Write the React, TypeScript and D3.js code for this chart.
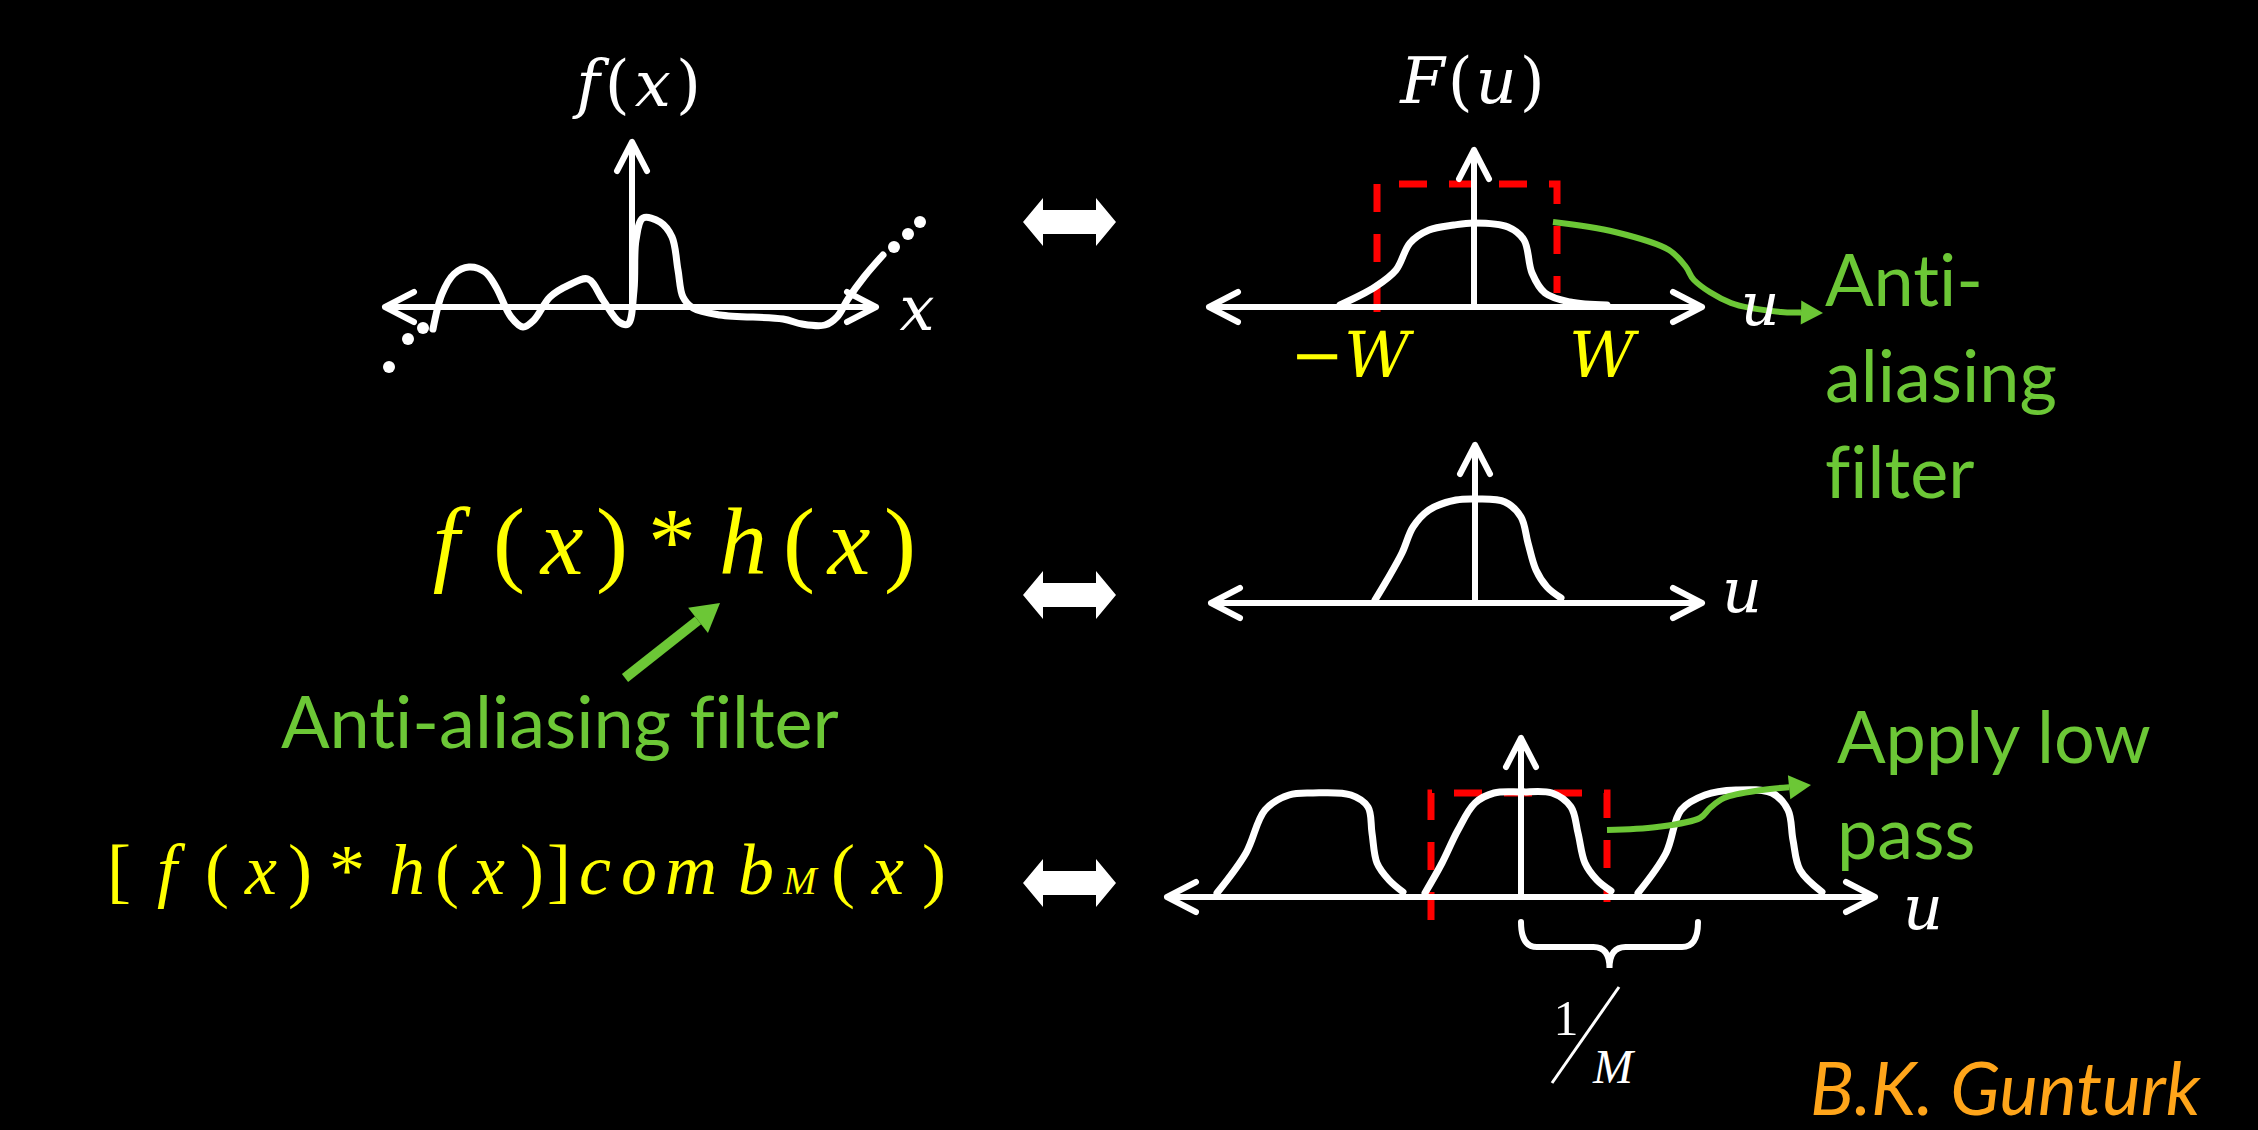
import * as d3 from 'd3';
import React, { ReactElement, useEffect, useRef } from 'react';

const WIDTH = 2258;
const HEIGHT = 1130;
const UNIT = 100; // one data unit = 100px in every sketch

const WHITE = '#ffffff';
const YELLOW = '#ffff00';
const GREEN = '#6cc736';
const RED = '#ff0000';
const ORANGE = '#ffa51a';

const MATH_FONT = '"DejaVu Serif", serif';
const TIMES_FONT = '"Liberation Serif", serif';
const TEXT_FONT = 'Lato, "Open Sans", sans-serif';

type Pt = [number, number];

// ---- f(x): signal sketch (top left)
const signalAxis = { left: -2.47, right: 2.44, top: 1.65 };
const signalCurve: Pt[] = [
  [-1.99, -0.22], [-1.9, 0.13], [-1.78, 0.33], [-1.63, 0.4], [-1.47, 0.35],
  [-1.36, 0.2], [-1.21, -0.1], [-1.09, -0.2], [-0.98, -0.13], [-0.82, 0.1],
  [-0.63, 0.22], [-0.44, 0.28], [-0.29, 0.07], [-0.13, -0.15], [-0.04, -0.17],
  [0.02, 0.17], [0.04, 0.67], [0.11, 0.89], [0.28, 0.85], [0.4, 0.7],
  [0.46, 0.37], [0.51, 0.1], [0.61, -0.01], [0.88, -0.08], [1.51, -0.12],
  [1.7, -0.17], [1.93, -0.18], [2.05, -0.1], [2.16, 0.08], [2.32, 0.3], [2.51, 0.52],
];
const signalDots: Pt[] = [
  [-2.09, -0.21], [-2.24, -0.32], [-2.43, -0.6],
  [2.62, 0.6], [2.76, 0.73], [2.88, 0.85],
];

// ---- F(u): band-limited spectrum with anti-aliasing filter (top right)
const spectrumAxis = { left: -2.65, right: 2.28, top: 1.57 };
const spectrumCurve: Pt[] = [
  [-1.34, 0.02], [-0.99, 0.2], [-0.78, 0.37], [-0.64, 0.64], [-0.45, 0.77],
  [-0.2, 0.82], [0, 0.84], [0.34, 0.8], [0.5, 0.67], [0.58, 0.34],
  [0.71, 0.14], [0.96, 0.05], [1.33, 0.02],
];
const filterBox: Pt[] = [[-0.97, -0.05], [-0.97, 1.23], [0.83, 1.23], [0.83, 0.14]];
const filterArrow: Pt[] = [
  [0.79, 0.85], [1.41, 0.75], [1.95, 0.57], [2.12, 0.4], [2.2, 0.27],
  [2.57, 0.04], [3.07, -0.05], [3.49, -0.06],
];
const bandLabels: { text: string; u: number }[] = [
  { text: '\u2212W', u: -1.24 },
  { text: 'W', u: 1.28 },
];

// ---- spectrum after filtering (middle right)
const filteredAxis = { left: -2.64, right: 2.27, top: 1.58 };
const filteredCurve: Pt[] = [
  [-1.0, 0.03], [-0.88, 0.23], [-0.73, 0.5], [-0.62, 0.76], [-0.46, 0.93],
  [-0.19, 1.03], [0.02, 1.04], [0.3, 1.01], [0.46, 0.86], [0.53, 0.6],
  [0.61, 0.33], [0.72, 0.16], [0.86, 0.05],
];

// ---- sampled spectrum, replicas every 1/M (bottom right)
const sampledAxis = { left: -3.54, right: 3.54, top: 1.59 };
const replicaLeft: Pt[] = [
  [-3.04, 0.04], [-2.75, 0.44], [-2.56, 0.87], [-2.32, 1.02], [-2.08, 1.04],
  [-1.7, 1.02], [-1.53, 0.9], [-1.49, 0.64], [-1.44, 0.34], [-1.32, 0.17], [-1.18, 0.05],
];
const replicaCentre: Pt[] = [
  [-0.96, 0.04], [-0.79, 0.34], [-0.63, 0.67], [-0.46, 0.94], [-0.27, 1.04],
  [0, 1.05], [0.31, 1.04], [0.5, 0.9], [0.57, 0.64], [0.64, 0.34], [0.76, 0.17], [0.9, 0.06],
];
const replicaRight: Pt[] = [
  [1.17, 0.04], [1.45, 0.44], [1.6, 0.87], [1.84, 1.02], [2.15, 1.07],
  [2.51, 1.04], [2.67, 0.87], [2.72, 0.57], [2.79, 0.27], [3.01, 0.05],
];
const lowPassBox: Pt[] = [[-0.9, -0.23], [-0.9, 1.04], [0.86, 1.04], [0.86, -0.05]];
const lowPassArrow: Pt[] = [
  [0.86, 0.67], [1.36, 0.7], [1.79, 0.79], [1.89, 0.89], [2.03, 0.99], [2.41, 1.07], [2.9, 1.12],
];
const periodSpan: [number, number] = [0, 1.77];

// ---- equations (glyph, centre x, italic)
const convolutionGlyphs: [string, number, boolean][] = [
  ['f', 446, true], ['(', 509, false], ['x', 562, true], [')', 612, false], ['*', 672, false],
  ['h', 743, true], ['(', 799, false], ['x', 849, true], [')', 900, false],
];
const sampledGlyphs: [string, number, boolean][] = [
  ['[', 119, false], ['f', 167, true], ['(', 217, false], ['x', 261, true], [')', 300, false],
  ['*', 347, false], ['h', 407, true], ['(', 447, false], ['x', 489, true], [')', 532, false],
  [']', 559, false], ['c', 595, true], ['o', 639, true], ['m', 691, true], ['b', 756, true],
  ['(', 843, false], ['x', 888, true], [')', 934, false],
];

const greenNotes: { lines: string[]; x: number; y: number }[] = [
  { lines: ['Anti-', 'aliasing', 'filter'], x: 1825, y: 306 },
  { lines: ['Apply low', 'pass'], x: 1837, y: 763 },
  { lines: ['Anti-aliasing filter'], x: 281, y: 748 },
];

const panelScales = (ox: number, oy: number) => ({
  x: d3.scaleLinear().domain([0, 1]).range([ox, ox + UNIT]),
  y: d3.scaleLinear().domain([0, 1]).range([oy, oy - UNIT]),
});

const chevron = (tip: Pt, dir: Pt) => {
  const [dx, dy] = dir;
  const px = -dy;
  const py = dx;
  return `M${tip[0] - 29 * dx + 15 * px},${tip[1] - 29 * dy + 15 * py}L${tip[0]},${tip[1]}L${tip[0] - 29 * dx - 15 * px},${tip[1] - 29 * dy - 15 * py}`;
};

const App = (): ReactElement => {
  const svgRef = useRef<SVGSVGElement>(null);

  useEffect(() => {
    document.body.style.margin = '0';
    document.body.style.background = '#000';
    const svg = d3.select(svgRef.current);
    svg.selectAll('*').remove();
    svg.append('rect').attr('width', WIDTH).attr('height', HEIGHT).attr('fill', '#000');

    const signal = panelScales(632, 307);
    const spectrum = panelScales(1474, 307);
    const filtered = panelScales(1475, 603);
    const sampled = panelScales(1521, 897);

    const smooth = (s: ReturnType<typeof panelScales>) =>
      d3
        .line<Pt>()
        .x((d) => s.x(d[0]))
        .y((d) => s.y(d[1]))
        .curve(d3.curveCatmullRom.alpha(0.5));

    const drawBox = (s: ReturnType<typeof panelScales>, pts: Pt[]) => {
      svg
        .append('path')
        .attr('d', d3.line<Pt>().x((d) => s.x(d[0])).y((d) => s.y(d[1]))(pts))
        .attr('fill', 'none')
        .attr('stroke', RED)
        .attr('stroke-width', 7)
        .attr('stroke-dasharray', '28 22');
    };

    const drawAxes = (s: ReturnType<typeof panelScales>, ext: { left: number; right: number; top: number }) => {
      const y0 = s.y(0);
      const x0 = s.x(0);
      const l = s.x(ext.left);
      const r = s.x(ext.right);
      const t = s.y(ext.top);
      svg
        .append('path')
        .attr(
          'd',
          `M${l},${y0}H${r}M${x0},${y0}V${t}` +
            chevron([l, y0], [-1, 0]) +
            chevron([r, y0], [1, 0]) +
            chevron([x0, t], [0, -1]),
        )
        .attr('fill', 'none')
        .attr('stroke', WHITE)
        .attr('stroke-width', 6)
        .attr('stroke-linecap', 'round')
        .attr('stroke-linejoin', 'round');
    };

    const drawCurve = (s: ReturnType<typeof panelScales>, pts: Pt[]) => {
      svg
        .append('path')
        .attr('d', smooth(s)(pts))
        .attr('fill', 'none')
        .attr('stroke', WHITE)
        .attr('stroke-width', 7)
        .attr('stroke-linecap', 'round')
        .attr('stroke-linejoin', 'round');
    };

    const drawGreenArrow = (s: ReturnType<typeof panelScales>, pts: Pt[]) => {
      const sc: Pt[] = pts.map((d) => [s.x(d[0]), s.y(d[1])]);
      const tip = sc[sc.length - 1];
      const prev = sc[sc.length - 2];
      const len = Math.hypot(tip[0] - prev[0], tip[1] - prev[1]);
      const dx = (tip[0] - prev[0]) / len;
      const dy = (tip[1] - prev[1]) / len;
      const base: Pt = [tip[0] - 22 * dx, tip[1] - 22 * dy];
      svg
        .append('path')
        .attr('d', d3.line().curve(d3.curveCatmullRom.alpha(0.5))([...sc.slice(0, -1), base]))
        .attr('fill', 'none')
        .attr('stroke', GREEN)
        .attr('stroke-width', 6);
      svg
        .append('path')
        .attr('d', `M${tip[0]},${tip[1]}L${base[0] - 12 * dy},${base[1] + 12 * dx}L${base[0] + 12 * dy},${base[1] - 12 * dx}Z`)
        .attr('fill', GREEN);
    };

    // red dashed filter windows go under the sketches
    drawBox(spectrum, filterBox);
    drawBox(sampled, lowPassBox);

    drawAxes(signal, signalAxis);
    drawAxes(spectrum, spectrumAxis);
    drawAxes(filtered, filteredAxis);
    drawAxes(sampled, sampledAxis);

    drawCurve(signal, signalCurve);
    drawCurve(spectrum, spectrumCurve);
    drawCurve(filtered, filteredCurve);
    [replicaLeft, replicaCentre, replicaRight].forEach((r) => drawCurve(sampled, r));

    svg
      .selectAll('circle.dot')
      .data(signalDots)
      .enter()
      .append('circle')
      .attr('class', 'dot')
      .attr('cx', (d) => signal.x(d[0]))
      .attr('cy', (d) => signal.y(d[1]))
      .attr('r', 6)
      .attr('fill', WHITE);

    drawGreenArrow(spectrum, filterArrow);
    drawGreenArrow(sampled, lowPassArrow);

    // brace marking the replica period
    const bx0 = sampled.x(periodSpan[0]);
    const bx1 = sampled.x(periodSpan[1]);
    const bxm = (bx0 + bx1) / 2;
    const bTop = sampled.y(-0.25);
    const bMid = sampled.y(-0.5);
    const bTip = sampled.y(-0.71);
    const br = 16;
    const brace = d3.path();
    brace.moveTo(bx0, bTop);
    brace.quadraticCurveTo(bx0, bMid, bx0 + br, bMid);
    brace.lineTo(bxm - br, bMid);
    brace.quadraticCurveTo(bxm, bMid, bxm, bTip);
    brace.quadraticCurveTo(bxm, bMid, bxm + br, bMid);
    brace.lineTo(bx1 - br, bMid);
    brace.quadraticCurveTo(bx1, bMid, bx1, bTop);
    svg
      .append('path')
      .attr('d', brace.toString())
      .attr('fill', 'none')
      .attr('stroke', WHITE)
      .attr('stroke-width', 6)
      .attr('stroke-linecap', 'round');

    // 1/M
    svg
      .append('text')
      .attr('x', sampled.x(0.45))
      .attr('y', sampled.y(-1.38))
      .attr('text-anchor', 'middle')
      .attr('font-family', TIMES_FONT)
      .attr('font-size', 50)
      .attr('fill', WHITE)
      .text('1');
    svg
      .append('line')
      .attr('x1', sampled.x(0.98))
      .attr('y1', sampled.y(-0.9))
      .attr('x2', sampled.x(0.31))
      .attr('y2', sampled.y(-1.86))
      .attr('stroke', WHITE)
      .attr('stroke-width', 3);
    svg
      .append('text')
      .attr('x', sampled.x(0.92))
      .attr('y', sampled.y(-1.86))
      .attr('text-anchor', 'middle')
      .attr('font-family', TIMES_FONT)
      .attr('font-style', 'italic')
      .attr('font-size', 48)
      .attr('fill', WHITE)
      .text('M');

    // double block arrows between domains
    [222, 595, 883].forEach((cy) => {
      const l = 1023;
      const r = 1116;
      const hl = 20;
      svg
        .append('path')
        .attr(
          'd',
          `M${l},${cy}L${l + hl},${cy - 24}V${cy - 12}H${r - hl}V${cy - 24}L${r},${cy}L${r - hl},${cy + 24}V${cy + 12}H${l + hl}V${cy + 24}Z`,
        )
        .attr('fill', WHITE);
    });

    // green arrow pointing at h(x)
    {
      const from: Pt = [625, 678];
      const tip: Pt = [720, 603];
      const len = Math.hypot(tip[0] - from[0], tip[1] - from[1]);
      const dx = (tip[0] - from[0]) / len;
      const dy = (tip[1] - from[1]) / len;
      const base: Pt = [tip[0] - 28 * dx, tip[1] - 28 * dy];
      svg
        .append('line')
        .attr('x1', from[0])
        .attr('y1', from[1])
        .attr('x2', base[0])
        .attr('y2', base[1])
        .attr('stroke', GREEN)
        .attr('stroke-width', 10);
      svg
        .append('path')
        .attr('d', `M${tip[0]},${tip[1]}L${base[0] - 16 * dy},${base[1] + 16 * dx}L${base[0] + 16 * dy},${base[1] - 16 * dx}Z`)
        .attr('fill', GREEN);
    }

    // math labels
    const mathLabel = (
      parts: [string, boolean][],
      x: number,
      y: number,
      size: number,
      color: string,
      spacing = 0,
    ) => {
      const t = svg
        .append('text')
        .attr('x', x)
        .attr('y', y)
        .attr('text-anchor', 'middle')
        .attr('font-family', MATH_FONT)
        .attr('font-size', size)
        .attr('letter-spacing', spacing)
        .attr('fill', color);
      parts.forEach(([s, it]) => {
        t.append('tspan').attr('font-style', it ? 'italic' : 'normal').text(s);
      });
    };
    mathLabel([['f', true], ['(', false], ['x', true], [')', false]], 641, 106, 64, WHITE, 5);
    mathLabel([['F', true], ['(', false], ['u', true], [')', false]], 1474, 103, 64, WHITE, 3);
    mathLabel([['x', true]], 917, 330, 62, WHITE);
    mathLabel([['u', true]], 1760, 325, 60, WHITE);
    mathLabel([['u', true]], 1742, 612, 62, WHITE);
    mathLabel([['u', true]], 1923, 929, 62, WHITE);
    bandLabels.forEach((b) => {
      svg
        .append('text')
        .attr('x', spectrum.x(b.u))
        .attr('y', spectrum.y(-0.7))
        .attr('text-anchor', 'middle')
        .attr('font-family', MATH_FONT)
        .attr('font-style', 'italic')
        .attr('font-size', 64)
        .attr('fill', YELLOW)
        .text(b.text);
    });

    // equations in yellow
    const equation = (glyphs: [string, number, boolean][], baseline: number, size: number) => {
      glyphs.forEach(([g, x, it]) => {
        svg
          .append('text')
          .attr('x', x)
          .attr('y', baseline)
          .attr('text-anchor', 'middle')
          .attr('font-family', TIMES_FONT)
          .attr('font-style', it ? 'italic' : 'normal')
          .attr('font-size', size)
          .attr('fill', YELLOW)
          .text(g);
      });
    };
    equation(convolutionGlyphs, 574, 96);
    equation(sampledGlyphs, 894, 72);
    svg
      .append('text')
      .attr('x', 800)
      .attr('y', 894)
      .attr('text-anchor', 'middle')
      .attr('font-family', TIMES_FONT)
      .attr('font-style', 'italic')
      .attr('font-size', 40)
      .attr('fill', YELLOW)
      .text('M');

    // green annotations
    greenNotes.forEach((n) => {
      n.lines.forEach((line, i) => {
        svg
          .append('text')
          .attr('x', n.x)
          .attr('y', n.y + i * 96)
          .attr('font-family', TEXT_FONT)
          .attr('font-size', 72)
          .style('font-variant-ligatures', 'none')
          .style('font-feature-settings', '"liga" 0')
          .attr('fill', GREEN)
          .text(line);
      });
    });

    svg
      .append('text')
      .attr('x', 1810)
      .attr('y', 1115)
      .attr('font-family', TEXT_FONT)
      .attr('font-style', 'italic')
      .attr('font-size', 73)
      .attr('fill', ORANGE)
      .text('B.K. Gunturk');
  }, []);

  return (
    <svg
      ref={svgRef}
      width={WIDTH}
      height={HEIGHT}
      style={{ position: 'absolute', left: 0, top: 0, display: 'block', background: '#000' }}
    />
  );
};

export default App;
